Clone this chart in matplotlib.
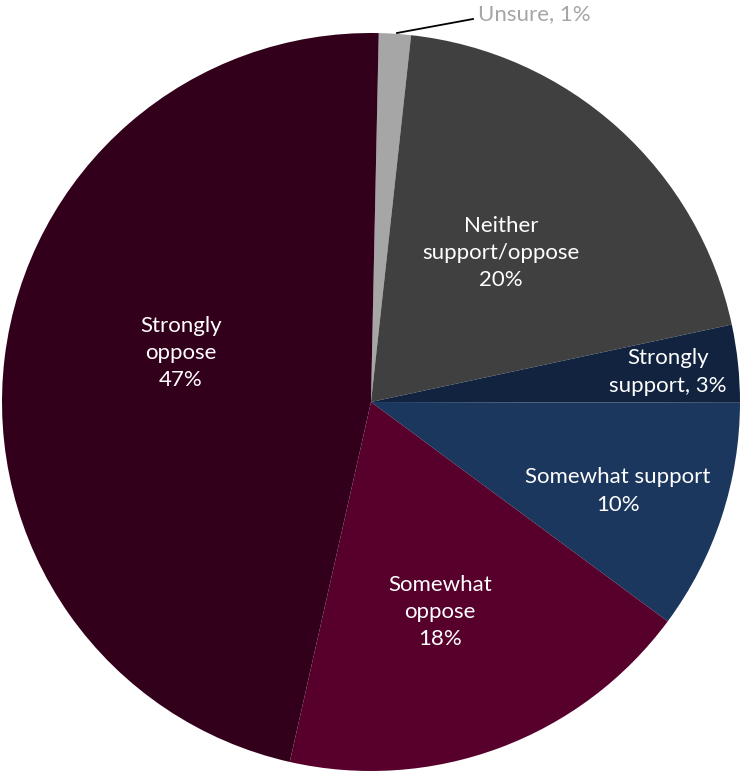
import matplotlib
matplotlib.use("Agg")
from matplotlib import pyplot as plt

# Datos (porcentajes, sentido horario desde arriba)
categorias = ["Unsure", "Neither support/oppose", "Strongly support",
              "Somewhat support", "Somewhat oppose", "Strongly oppose"]
valores = [1.4, 19.9, 3.4, 10.1, 18.4, 46.8]
etiquetas = ["Unsure, 1%", "Neither\nsupport/oppose\n20%", "Strongly\nsupport, 3%",
             "Somewhat support\n10%", "Somewhat\noppose\n18%", "Strongly\noppose\n47%"]
colores = ["#a6a6a6", "#404040", "#11233f", "#1b375e", "#56002b", "#33001b"]

plt.rcParams['font.family'] = ['Lato', 'DejaVu Sans']

fig = plt.figure(figsize=(7.43, 7.72), dpi=100)
ax = fig.add_axes([2 / 743, 1 / 772, 738 / 743, 738 / 772])

wedges, _ = ax.pie(valores, colors=colores, startangle=88.8, counterclock=False,
                   radius=1, wedgeprops=dict(linewidth=0))
ax.set_xlim(-1, 1)
ax.set_ylim(-1, 1)
ax.axis("off")


# pixel -> coordenadas de datos
def px(x, y):
    return (x - 371) / 369.0, (402 - y) / 369.0


pos = {
    "Neither support/oppose": (501, 253),
    "Strongly support": (668, 372),
    "Somewhat support": (618, 491),
    "Somewhat oppose": (440, 612),
    "Strongly oppose": (181, 353),
}
for cat, lab in zip(categorias, etiquetas):
    if cat == "Unsure":
        continue
    x, y = px(*pos[cat])
    ax.text(x, y, lab, color="white", fontsize=16, ha="center", va="center",
            linespacing=1.45)

# Etiqueta externa de Unsure con linea guia
ax.plot(*zip(px(397, 33), px(473, 19)), color="black", lw=1.3, clip_on=False)
tx, ty = px(478, 14)
ax.text(tx, ty, etiquetas[0], color="#a6a6a6", fontsize=16, ha="left", va="center",
        clip_on=False)

fig.savefig("out.png", dpi=100)
